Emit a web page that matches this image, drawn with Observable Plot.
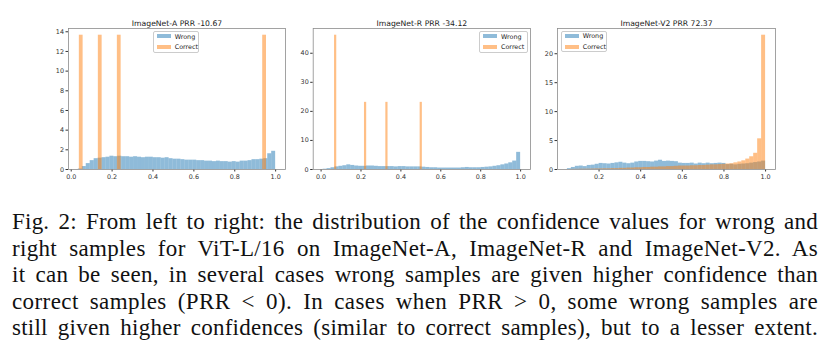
<!DOCTYPE html>
<html><head><meta charset="utf-8">
<script src="https://cdn.jsdelivr.net/npm/d3@7"></script>
<script src="https://cdn.jsdelivr.net/npm/@observablehq/plot@0.6"></script>
<style>
html,body{margin:0;padding:0;background:#fff;width:829px;height:356px;overflow:hidden;}
#root{position:relative;width:829px;height:356px;}
.panel{position:absolute;top:0;}
.legend{position:absolute;background:rgba(255,255,255,0.8);border:0.8px solid #ccc;border-radius:2px;box-sizing:border-box;font-family:"DejaVu Sans";font-size:6.4px;color:#222;}
.legend .patch{position:absolute;left:3.3px;width:14px;height:4px;}
.legend .lab{position:absolute;left:21px;white-space:nowrap;line-height:8px;}
#cap{position:absolute;left:12px;width:806px;font-family:"Liberation Serif";line-height:26.6px;color:#111;}
#cap div{white-space:nowrap;text-align:left;}
</style></head>
<body><div id="root"></div>
<script>
// ---- data (density histograms) ----
const titles = ["ImageNet-A PRR -10.67", "ImageNet-R PRR -34.12", "ImageNet-V2 PRR 72.37"];
const seriesNames = ["Wrong", "Correct"];
const seriesColors = ["#1f77b4", "#ff7f0e"];

// ImageNet-A
const rangeA = [0.035, 1.0];
const wrongA = [0.05,0.3,0.6,0.9,1.1,1.15,1.2,1.25,1.35,1.3,1.35,1.3,1.3,1.25,1.3,1.25,1.2,1.25,1.25,1.2,
  1.2,1.15,1.2,1.1,1.05,1.05,1.0,0.95,0.95,0.95,0.9,0.9,0.85,0.85,0.8,0.85,0.8,0.8,0.75,0.8,
  0.75,0.85,0.85,0.9,1.0,1.0,1.05,1.1,1.6,1.85];
const correctCentersA = [0.049, 0.142, 0.235, 0.946];
const correctHeightsA = [13.65, 13.65, 13.65, 13.65];
const correctWidthA = 0.0185;

// ImageNet-R
const rangeR = [0.01, 1.0];
const wrongR = [0.1,0.3,0.6,0.9,1.1,1.3,1.6,1.4,1.2,1.1,1.1,1.2,1.2,1.1,1.0,1.0,1.0,1.0,0.9,1.0,
  1.0,0.9,0.9,0.9,0.9,0.8,0.7,0.6,0.6,0.5,0.5,0.5,0.5,0.5,0.5,0.6,0.7,0.6,0.6,0.6,
  0.7,0.8,0.9,1.1,1.3,1.6,1.9,2.3,2.9,5.9];
const correctCentersR = [0.073, 0.223, 0.330, 0.502];
const correctHeightsR = [46.2, 23.1, 23.1, 23.1];
const correctWidthR = 0.011;

// ImageNet-V2
const rangeV = [0.048, 1.0];
const wrongV = [0.15,0.35,0.55,0.6,0.5,0.7,0.75,0.9,1.05,1.0,0.95,1.05,1.15,1.25,1.1,1.0,1.1,1.3,1.4,1.4,
  1.35,1.3,1.45,1.6,1.4,1.45,1.4,1.35,1.1,1.05,1.05,1.1,0.95,1.1,1.0,1.1,1.0,1.05,1.1,1.05,
  0.85,0.9,0.8,0.9,0.95,1.0,1.1,1.2,1.3,1.45];
const correctV = [0.0,0.02,0.03,0.05,0.05,0.06,0.08,0.1,0.1,0.12,0.12,0.15,0.15,0.2,0.2,0.25,0.25,0.3,0.3,0.35,
  0.35,0.4,0.4,0.45,0.45,0.5,0.5,0.55,0.6,0.6,0.6,0.65,0.65,0.7,0.7,0.75,0.8,0.8,0.85,0.9,
  0.95,1.0,1.15,1.3,1.5,1.8,2.2,2.8,5.3,23.2];

const xTicksAR = [0, 0.2, 0.4, 0.6, 0.8, 1.0];
const xTicksV = [0.2, 0.4, 0.6, 0.8, 1.0];
const yTicksA = [0, 2, 4, 6, 8, 10, 12, 14];
const yTicksR = [0, 10, 20, 30, 40];
const yTicksV = [0, 5, 10, 15, 20];

const captionLines = [
  "Fig. 2: From left to right: the distribution of the confidence values for wrong and",
  "right samples for ViT-L/16 on ImageNet-A, ImageNet-R and ImageNet-V2. As",
  "it can be seen, in several cases wrong samples are given higher confidence than",
  "correct samples (PRR < 0). In cases when PRR > 0, some wrong samples are",
  "still given higher confidences (similar to correct samples), but to a lesser extent."
];

// ---- helpers ----
function binsOf(range, heights) {
  const w = (range[1] - range[0]) / heights.length;
  return heights.map((h, i) => ({x1: range[0] + i * w, x2: range[0] + (i + 1) * w, y: h}));
}
function barsOf(centers, heights, w) {
  return centers.map((c, i) => ({x1: c - w / 2, x2: c + w / 2, y: heights[i]}));
}
function limits(range, ymax) {
  const m = 0.05 * (range[1] - range[0]);
  return {x: [range[0] - m, range[1] + m], y: [0, ymax * 1.05]};
}

const panels = [
  {left: 0, width: 290, ml: 68, mr: 5, title: titles[0], wrong: binsOf(rangeA, wrongA),
   correct: barsOf(correctCentersA, correctHeightsA, correctWidthA), lim: limits(rangeA, 13.65),
   xt: xTicksAR, yt: yTicksA, legend: {left: 152.7, top: 31, width: 46.3}},
  {left: 290, width: 245, ml: 22.7, mr: 5, title: titles[1], wrong: binsOf(rangeR, wrongR),
   correct: barsOf(correctCentersR, correctHeightsR, correctWidthR), lim: limits(rangeR, 46.2),
   xt: xTicksAR, yt: yTicksR, legend: {left: 479, top: 31, width: 48.7}},
  {left: 535, width: 294, ml: 22, mr: 54, title: titles[2], wrong: binsOf(rangeV, wrongV),
   correct: binsOf(rangeV, correctV), lim: limits(rangeV, 23.2),
   xt: xTicksV, yt: yTicksV, legend: {left: 560.7, top: 30.5, width: 46.3}}
];

const root = document.getElementById("root");
for (const p of panels) {
  const chart = Plot.plot({
    width: p.width, height: 185,
    marginLeft: p.ml, marginRight: p.mr, marginTop: 28, marginBottom: 16,
    style: {fontFamily: "DejaVu Sans", fontSize: "6.4px", color: "#333", background: "transparent", overflow: "visible"},
    x: {domain: p.lim.x, ticks: p.xt, tickFormat: d3.format(".1f"), tickSize: 2.5, tickPadding: 2, label: null},
    y: {domain: p.lim.y, ticks: p.yt, tickFormat: d3.format("d"), tickSize: 2.5, tickPadding: 2, label: null},
    marks: [
      Plot.rectY(p.wrong, {x1: "x1", x2: "x2", y: "y", fill: seriesColors[0], fillOpacity: 0.5}),
      Plot.rectY(p.correct, {x1: "x1", x2: "x2", y: "y", fill: seriesColors[1], fillOpacity: 0.5}),
      Plot.frame({stroke: "#8c8c8c", strokeWidth: 0.8}),
      Plot.text([p.title], {text: d => d, frameAnchor: "top", lineAnchor: "bottom", dy: -3, fontSize: 7.7, fill: "#222"})
    ]
  });
  const holder = document.createElement("div");
  holder.className = "panel";
  holder.style.left = p.left + "px";
  holder.appendChild(chart);
  root.appendChild(holder);

  const lg = document.createElement("div");
  lg.className = "legend";
  lg.style.left = p.legend.left + "px";
  lg.style.top = p.legend.top + "px";
  lg.style.width = p.legend.width + "px";
  lg.style.height = "21.5px";
  seriesNames.forEach((name, i) => {
    const patch = document.createElement("div");
    patch.className = "patch";
    patch.style.top = (2.3 + i * 10.7) + "px";
    patch.style.background = seriesColors[i];
    patch.style.opacity = 0.5;
    lg.appendChild(patch);
    const lab = document.createElement("div");
    lab.className = "lab";
    lab.style.top = (0.5 + i * 10.7) + "px";
    lab.textContent = name;
    lg.appendChild(lab);
  });
  root.appendChild(lg);
}

// caption: justified lines, spacing computed from measured widths
const capWidth = 806;
const cap = document.createElement("div");
cap.id = "cap";
cap.style.top = "209px";
root.appendChild(cap);
const spans = captionLines.map(line => {
  const d = document.createElement("div");
  const s = document.createElement("span");
  s.textContent = line;
  d.appendChild(s);
  cap.appendChild(d);
  return s;
});
let fs = 23;
cap.style.fontSize = fs + "px";
let maxW = d3.max(spans, s => s.getBoundingClientRect().width);
if (maxW > capWidth - 20) {
  fs = fs * (capWidth - 20) / maxW;
  cap.style.fontSize = fs + "px";
}
spans.forEach((s, i) => {
  const w = s.getBoundingClientRect().width;
  const nSp = (captionLines[i].match(/ /g) || []).length;
  const extra = capWidth - w;
  const ws = extra * 0.7 / nSp;
  const ls = extra * 0.3 / captionLines[i].length;
  s.style.wordSpacing = ws + "px";
  s.style.letterSpacing = ls + "px";
});
</script>
</body></html>
